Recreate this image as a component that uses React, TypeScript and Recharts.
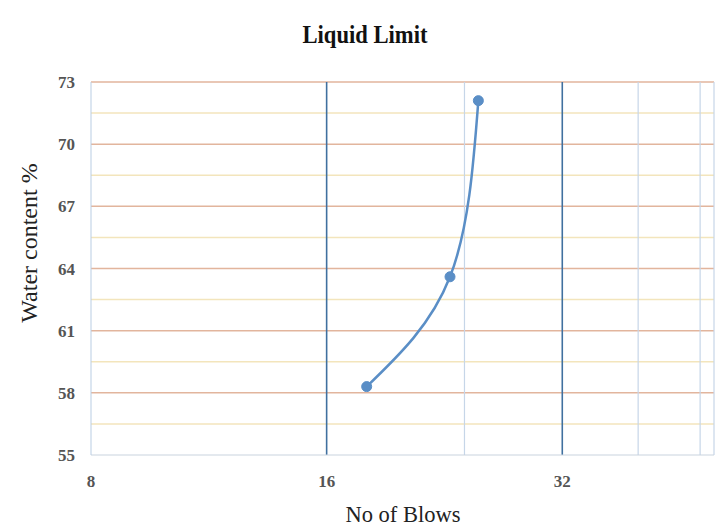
import { LineChart, Line, XAxis, YAxis, ReferenceLine } from "recharts";

// Liquid limit test readings
const blows = [18, 23, 25];
const waterContent = [58.3, 63.6, 72.1];

const xTicks = [8, 16, 32];
const yTicks = [55, 58, 61, 64, 67, 70, 73];
const majorX = [16, 32];
const minorX = [24, 40, 48, 50];
const majorY = [58, 61, 64, 67, 70, 73];
const minorY = [56.5, 59.5, 62.5, 65.5, 68.5, 71.5];

const data = blows.map((b, i) => ({ blows: b, wc: waterContent[i] }));

const SERIF = "'Liberation Serif', 'Times New Roman', serif";
const LINE = "#5a8ec6";
const tickStyle = { fontFamily: SERIF, fontSize: 17, fontWeight: "bold", fill: "#555" };

export default function App() {
  return (
    <div style={{ position: "fixed", left: 0, top: 0, width: 725, height: 529, background: "#fff" }}>
      <LineChart width={725} height={529} data={data} margin={{ top: 82, right: 11, bottom: 14, left: 0 }}>
        <XAxis
          dataKey="blows"
          type="number"
          scale="log"
          domain={[8, 50]}
          ticks={xTicks}
          allowDataOverflow
          height={60}
          tickLine={false}
          tickSize={6}
          tickMargin={14}
          axisLine={{ stroke: "#c9d3de" }}
          tick={tickStyle}
        />
        <YAxis
          type="number"
          domain={[55, 73]}
          ticks={yTicks}
          width={91}
          tickLine={false}
          tickSize={6}
          tickMargin={10}
          axisLine={{ stroke: "#b9cde3" }}
          tick={tickStyle}
        />
        {minorY.map((v) => (
          <ReferenceLine key={"my" + v} y={v} stroke="#f3e5bc" strokeWidth={1.5} />
        ))}
        {majorY.map((v) => (
          <ReferenceLine key={"My" + v} y={v} stroke="#e2b59d" strokeWidth={1.5} />
        ))}
        {minorX.map((v) => (
          <ReferenceLine key={"mx" + v} x={v} stroke="#c6d6e8" strokeWidth={1.2} />
        ))}
        {majorX.map((v) => (
          <ReferenceLine key={"Mx" + v} x={v} stroke="#40709f" strokeWidth={1.6} />
        ))}
        <Line
          dataKey="wc"
          type="natural"
          stroke={LINE}
          strokeWidth={2.5}
          dot={{ r: 5, fill: LINE, stroke: LINE, strokeWidth: 1 }}
          isAnimationActive={false}
        />
        <text
          x={365}
          y={43}
          textAnchor="middle"
          fontFamily={SERIF}
          fontWeight="bold"
          fontSize={25}
          textLength={125}
          lengthAdjust="spacingAndGlyphs"
          fill="#111"
        >
          Liquid Limit
        </text>
        <text
          x={403}
          y={522}
          textAnchor="middle"
          fontFamily={SERIF}
          fontSize={24}
          textLength={115}
          lengthAdjust="spacingAndGlyphs"
          fill="#222"
        >
          No of Blows
        </text>
        <text
          transform="translate(37 243) rotate(-90)"
          textAnchor="middle"
          fontFamily={SERIF}
          fontSize={24}
          fill="#222"
        >
          Water content %
        </text>
      </LineChart>
    </div>
  );
}
